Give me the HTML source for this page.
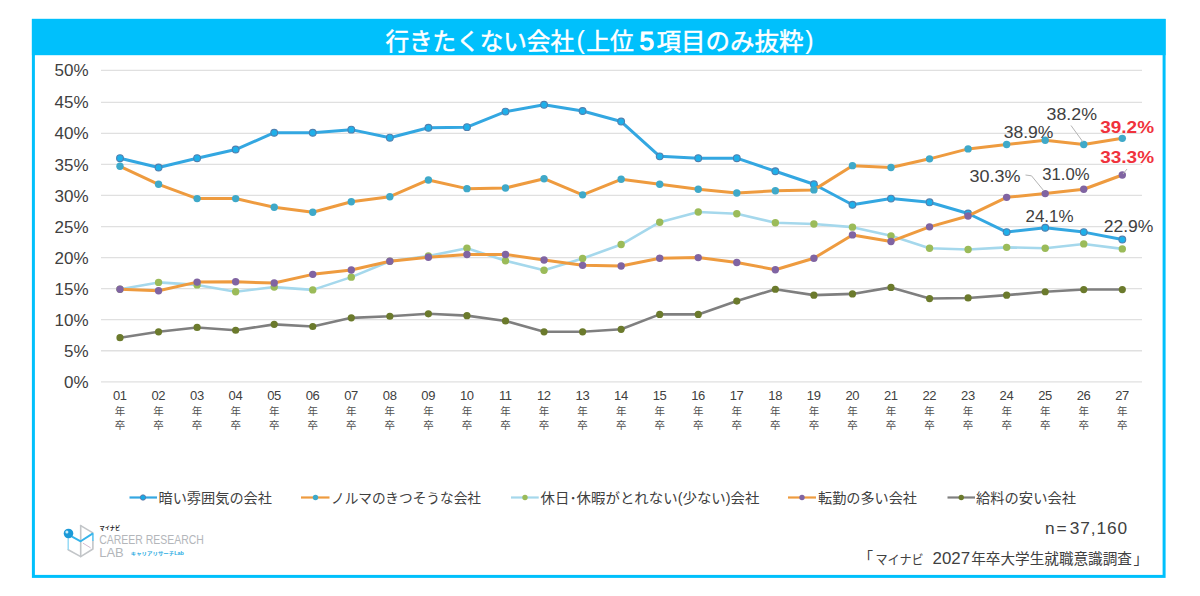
<!DOCTYPE html>
<html lang="ja"><head><meta charset="utf-8"><title>行きたくない会社(上位5項目のみ抜粋)</title>
<style>html,body{margin:0;padding:0;background:#fff}body{width:1200px;height:596px;position:relative;overflow:hidden;font-family:"Liberation Sans","Noto Sans CJK JP",sans-serif}</style></head>
<body>
<svg width="1200" height="596" viewBox="0 0 1200 596" style="position:absolute;left:0;top:0;font-family:'Liberation Sans','Noto Sans CJK JP',sans-serif">
<rect x="33.4" y="20.4" width="1130.7" height="556" fill="#fff" stroke="#00c0fc" stroke-width="3"/>
<rect x="31.9" y="18.9" width="1133.7" height="36.3" fill="#00c0fc"/>
<line x1="101" x2="1142" y1="381.8" y2="381.8" stroke="#e0e0e0" stroke-width="1.3"/>
<line x1="101" x2="1142" y1="350.75" y2="350.75" stroke="#e0e0e0" stroke-width="1.3"/>
<line x1="101" x2="1142" y1="319.69" y2="319.69" stroke="#e0e0e0" stroke-width="1.3"/>
<line x1="101" x2="1142" y1="288.63" y2="288.63" stroke="#e0e0e0" stroke-width="1.3"/>
<line x1="101" x2="1142" y1="257.58" y2="257.58" stroke="#e0e0e0" stroke-width="1.3"/>
<line x1="101" x2="1142" y1="226.53" y2="226.53" stroke="#e0e0e0" stroke-width="1.3"/>
<line x1="101" x2="1142" y1="195.47" y2="195.47" stroke="#e0e0e0" stroke-width="1.3"/>
<line x1="101" x2="1142" y1="164.41" y2="164.41" stroke="#e0e0e0" stroke-width="1.3"/>
<line x1="101" x2="1142" y1="133.36" y2="133.36" stroke="#e0e0e0" stroke-width="1.3"/>
<line x1="101" x2="1142" y1="102.31" y2="102.31" stroke="#e0e0e0" stroke-width="1.3"/>
<line x1="101" x2="1142" y1="70.3" y2="70.3" stroke="#e0e0e0" stroke-width="1.3"/>
<text x="88.5" y="387.9" text-anchor="end" font-size="17px" fill="#404040">0%</text>
<text x="88.5" y="356.85" text-anchor="end" font-size="17px" fill="#404040">5%</text>
<text x="88.5" y="325.79" text-anchor="end" font-size="17px" fill="#404040">10%</text>
<text x="88.5" y="294.74" text-anchor="end" font-size="17px" fill="#404040">15%</text>
<text x="88.5" y="263.68" text-anchor="end" font-size="17px" fill="#404040">20%</text>
<text x="88.5" y="232.62" text-anchor="end" font-size="17px" fill="#404040">25%</text>
<text x="88.5" y="201.57" text-anchor="end" font-size="17px" fill="#404040">30%</text>
<text x="88.5" y="170.51" text-anchor="end" font-size="17px" fill="#404040">35%</text>
<text x="88.5" y="139.46" text-anchor="end" font-size="17px" fill="#404040">40%</text>
<text x="88.5" y="108.41" text-anchor="end" font-size="17px" fill="#404040">45%</text>
<text x="88.5" y="76.4" text-anchor="end" font-size="17px" fill="#404040">50%</text>
<polyline points="120,158.2 158.55,167.52 197.1,158.2 235.65,149.51 274.2,132.74 312.75,132.74 351.3,129.63 389.85,137.71 428.4,127.77 466.95,127.15 505.5,111.62 544.05,104.79 582.6,111 621.15,121.56 659.7,156.34 698.25,158.2 736.8,158.2 775.35,171.25 813.9,184.29 852.45,204.79 891,198.58 929.55,202.3 968.1,213.48 1006.65,232.11 1045.2,227.77 1083.75,232.11 1122.3,239.57" fill="none" stroke="#33a7e1" stroke-width="3.0" stroke-linejoin="round" stroke-linecap="round"/>
<g fill="#1eb0ea" stroke="#4f80b0" stroke-width="1.1"><circle cx="120" cy="158.2" r="3.4"/><circle cx="158.55" cy="167.52" r="3.4"/><circle cx="197.1" cy="158.2" r="3.4"/><circle cx="235.65" cy="149.51" r="3.4"/><circle cx="274.2" cy="132.74" r="3.4"/><circle cx="312.75" cy="132.74" r="3.4"/><circle cx="351.3" cy="129.63" r="3.4"/><circle cx="389.85" cy="137.71" r="3.4"/><circle cx="428.4" cy="127.77" r="3.4"/><circle cx="466.95" cy="127.15" r="3.4"/><circle cx="505.5" cy="111.62" r="3.4"/><circle cx="544.05" cy="104.79" r="3.4"/><circle cx="582.6" cy="111" r="3.4"/><circle cx="621.15" cy="121.56" r="3.4"/><circle cx="659.7" cy="156.34" r="3.4"/><circle cx="698.25" cy="158.2" r="3.4"/><circle cx="736.8" cy="158.2" r="3.4"/><circle cx="775.35" cy="171.25" r="3.4"/><circle cx="813.9" cy="184.29" r="3.4"/><circle cx="852.45" cy="204.79" r="3.4"/><circle cx="891" cy="198.58" r="3.4"/><circle cx="929.55" cy="202.3" r="3.4"/><circle cx="968.1" cy="213.48" r="3.4"/><circle cx="1006.65" cy="232.11" r="3.4"/><circle cx="1045.2" cy="227.77" r="3.4"/><circle cx="1083.75" cy="232.11" r="3.4"/><circle cx="1122.3" cy="239.57" r="3.4"/></g>
<polyline points="120,166.28 158.55,184.29 197.1,198.58 235.65,198.58 274.2,207.27 312.75,212.24 351.3,201.68 389.85,196.71 428.4,179.94 466.95,188.64 505.5,188.02 544.05,178.7 582.6,194.85 621.15,179.32 659.7,184.29 698.25,189.26 736.8,192.99 775.35,190.81 813.9,189.88 852.45,165.66 891,167.52 929.55,158.83 968.1,148.89 1006.65,144.54 1045.2,140.19 1083.75,144.54 1122.3,138.33" fill="none" stroke="#ee9b3f" stroke-width="3.0" stroke-linejoin="round" stroke-linecap="round"/>
<g fill="#3fa9c9" stroke="#3fa9c9" stroke-width="0"><circle cx="120" cy="166.28" r="3.7"/><circle cx="158.55" cy="184.29" r="3.7"/><circle cx="197.1" cy="198.58" r="3.7"/><circle cx="235.65" cy="198.58" r="3.7"/><circle cx="274.2" cy="207.27" r="3.7"/><circle cx="312.75" cy="212.24" r="3.7"/><circle cx="351.3" cy="201.68" r="3.7"/><circle cx="389.85" cy="196.71" r="3.7"/><circle cx="428.4" cy="179.94" r="3.7"/><circle cx="466.95" cy="188.64" r="3.7"/><circle cx="505.5" cy="188.02" r="3.7"/><circle cx="544.05" cy="178.7" r="3.7"/><circle cx="582.6" cy="194.85" r="3.7"/><circle cx="621.15" cy="179.32" r="3.7"/><circle cx="659.7" cy="184.29" r="3.7"/><circle cx="698.25" cy="189.26" r="3.7"/><circle cx="736.8" cy="192.99" r="3.7"/><circle cx="775.35" cy="190.81" r="3.7"/><circle cx="813.9" cy="189.88" r="3.7"/><circle cx="852.45" cy="165.66" r="3.7"/><circle cx="891" cy="167.52" r="3.7"/><circle cx="929.55" cy="158.83" r="3.7"/><circle cx="968.1" cy="148.89" r="3.7"/><circle cx="1006.65" cy="144.54" r="3.7"/><circle cx="1045.2" cy="140.19" r="3.7"/><circle cx="1083.75" cy="144.54" r="3.7"/><circle cx="1122.3" cy="138.33" r="3.7"/></g>
<polyline points="120,289.26 158.55,282.42 197.1,284.91 235.65,291.74 274.2,287.08 312.75,289.88 351.3,277.14 389.85,261.31 428.4,256.03 466.95,248.26 505.5,260.69 544.05,270.31 582.6,258.51 621.15,244.54 659.7,222.18 698.25,211.93 736.8,213.79 775.35,222.8 813.9,224.04 852.45,227.15 891,235.84 929.55,248.26 968.1,249.51 1006.65,247.33 1045.2,248.26 1083.75,243.92 1122.3,248.88" fill="none" stroke="#a5d8ec" stroke-width="2.6" stroke-linejoin="round" stroke-linecap="round"/>
<g fill="#9bbb59" stroke="#9bbb59" stroke-width="0"><circle cx="120" cy="289.26" r="3.7"/><circle cx="158.55" cy="282.42" r="3.7"/><circle cx="197.1" cy="284.91" r="3.7"/><circle cx="235.65" cy="291.74" r="3.7"/><circle cx="274.2" cy="287.08" r="3.7"/><circle cx="312.75" cy="289.88" r="3.7"/><circle cx="351.3" cy="277.14" r="3.7"/><circle cx="389.85" cy="261.31" r="3.7"/><circle cx="428.4" cy="256.03" r="3.7"/><circle cx="466.95" cy="248.26" r="3.7"/><circle cx="505.5" cy="260.69" r="3.7"/><circle cx="544.05" cy="270.31" r="3.7"/><circle cx="582.6" cy="258.51" r="3.7"/><circle cx="621.15" cy="244.54" r="3.7"/><circle cx="659.7" cy="222.18" r="3.7"/><circle cx="698.25" cy="211.93" r="3.7"/><circle cx="736.8" cy="213.79" r="3.7"/><circle cx="775.35" cy="222.8" r="3.7"/><circle cx="813.9" cy="224.04" r="3.7"/><circle cx="852.45" cy="227.15" r="3.7"/><circle cx="891" cy="235.84" r="3.7"/><circle cx="929.55" cy="248.26" r="3.7"/><circle cx="968.1" cy="249.51" r="3.7"/><circle cx="1006.65" cy="247.33" r="3.7"/><circle cx="1045.2" cy="248.26" r="3.7"/><circle cx="1083.75" cy="243.92" r="3.7"/><circle cx="1122.3" cy="248.88" r="3.7"/></g>
<polyline points="120,289.26 158.55,290.81 197.1,282.11 235.65,281.8 274.2,283.05 312.75,274.35 351.3,270 389.85,261.31 428.4,257.27 466.95,254.47 505.5,254.47 544.05,260.06 582.6,265.34 621.15,265.96 659.7,258.2 698.25,257.58 736.8,262.55 775.35,269.69 813.9,258.2 852.45,234.91 891,241.43 929.55,226.84 968.1,215.97 1006.65,197.33 1045.2,193.61 1083.75,189.26 1122.3,174.97" fill="none" stroke="#ee9b3f" stroke-width="3.0" stroke-linejoin="round" stroke-linecap="round"/>
<g fill="#8064a2" stroke="#8064a2" stroke-width="0"><circle cx="120" cy="289.26" r="3.7"/><circle cx="158.55" cy="290.81" r="3.7"/><circle cx="197.1" cy="282.11" r="3.7"/><circle cx="235.65" cy="281.8" r="3.7"/><circle cx="274.2" cy="283.05" r="3.7"/><circle cx="312.75" cy="274.35" r="3.7"/><circle cx="351.3" cy="270" r="3.7"/><circle cx="389.85" cy="261.31" r="3.7"/><circle cx="428.4" cy="257.27" r="3.7"/><circle cx="466.95" cy="254.47" r="3.7"/><circle cx="505.5" cy="254.47" r="3.7"/><circle cx="544.05" cy="260.06" r="3.7"/><circle cx="582.6" cy="265.34" r="3.7"/><circle cx="621.15" cy="265.96" r="3.7"/><circle cx="659.7" cy="258.2" r="3.7"/><circle cx="698.25" cy="257.58" r="3.7"/><circle cx="736.8" cy="262.55" r="3.7"/><circle cx="775.35" cy="269.69" r="3.7"/><circle cx="813.9" cy="258.2" r="3.7"/><circle cx="852.45" cy="234.91" r="3.7"/><circle cx="891" cy="241.43" r="3.7"/><circle cx="929.55" cy="226.84" r="3.7"/><circle cx="968.1" cy="215.97" r="3.7"/><circle cx="1006.65" cy="197.33" r="3.7"/><circle cx="1045.2" cy="193.61" r="3.7"/><circle cx="1083.75" cy="189.26" r="3.7"/><circle cx="1122.3" cy="174.97" r="3.7"/></g>
<polyline points="120,337.7 158.55,331.8 197.1,327.45 235.65,330.25 274.2,324.35 312.75,326.52 351.3,317.83 389.85,316.27 428.4,313.79 466.95,315.65 505.5,320.93 544.05,331.8 582.6,331.8 621.15,329.32 659.7,314.41 698.25,314.41 736.8,301.06 775.35,289.26 813.9,295.16 852.45,293.91 891,287.39 929.55,298.57 968.1,297.95 1006.65,295.16 1045.2,291.74 1083.75,289.57 1122.3,289.57" fill="none" stroke="#7f7f7f" stroke-width="2.6" stroke-linejoin="round" stroke-linecap="round"/>
<g fill="#6b7a2c" stroke="#6b7a2c" stroke-width="0"><circle cx="120" cy="337.7" r="3.6"/><circle cx="158.55" cy="331.8" r="3.6"/><circle cx="197.1" cy="327.45" r="3.6"/><circle cx="235.65" cy="330.25" r="3.6"/><circle cx="274.2" cy="324.35" r="3.6"/><circle cx="312.75" cy="326.52" r="3.6"/><circle cx="351.3" cy="317.83" r="3.6"/><circle cx="389.85" cy="316.27" r="3.6"/><circle cx="428.4" cy="313.79" r="3.6"/><circle cx="466.95" cy="315.65" r="3.6"/><circle cx="505.5" cy="320.93" r="3.6"/><circle cx="544.05" cy="331.8" r="3.6"/><circle cx="582.6" cy="331.8" r="3.6"/><circle cx="621.15" cy="329.32" r="3.6"/><circle cx="659.7" cy="314.41" r="3.6"/><circle cx="698.25" cy="314.41" r="3.6"/><circle cx="736.8" cy="301.06" r="3.6"/><circle cx="775.35" cy="289.26" r="3.6"/><circle cx="813.9" cy="295.16" r="3.6"/><circle cx="852.45" cy="293.91" r="3.6"/><circle cx="891" cy="287.39" r="3.6"/><circle cx="929.55" cy="298.57" r="3.6"/><circle cx="968.1" cy="297.95" r="3.6"/><circle cx="1006.65" cy="295.16" r="3.6"/><circle cx="1045.2" cy="291.74" r="3.6"/><circle cx="1083.75" cy="289.57" r="3.6"/><circle cx="1122.3" cy="289.57" r="3.6"/></g>
<text x="119.8" y="400.2" text-anchor="middle" font-size="13px" fill="#404040" letter-spacing="-0.4">01</text>
<text x="158.35" y="400.2" text-anchor="middle" font-size="13px" fill="#404040" letter-spacing="-0.4">02</text>
<text x="196.9" y="400.2" text-anchor="middle" font-size="13px" fill="#404040" letter-spacing="-0.4">03</text>
<text x="235.45" y="400.2" text-anchor="middle" font-size="13px" fill="#404040" letter-spacing="-0.4">04</text>
<text x="274" y="400.2" text-anchor="middle" font-size="13px" fill="#404040" letter-spacing="-0.4">05</text>
<text x="312.55" y="400.2" text-anchor="middle" font-size="13px" fill="#404040" letter-spacing="-0.4">06</text>
<text x="351.1" y="400.2" text-anchor="middle" font-size="13px" fill="#404040" letter-spacing="-0.4">07</text>
<text x="389.65" y="400.2" text-anchor="middle" font-size="13px" fill="#404040" letter-spacing="-0.4">08</text>
<text x="428.2" y="400.2" text-anchor="middle" font-size="13px" fill="#404040" letter-spacing="-0.4">09</text>
<text x="466.75" y="400.2" text-anchor="middle" font-size="13px" fill="#404040" letter-spacing="-0.4">10</text>
<text x="505.3" y="400.2" text-anchor="middle" font-size="13px" fill="#404040" letter-spacing="-0.4">11</text>
<text x="543.85" y="400.2" text-anchor="middle" font-size="13px" fill="#404040" letter-spacing="-0.4">12</text>
<text x="582.4" y="400.2" text-anchor="middle" font-size="13px" fill="#404040" letter-spacing="-0.4">13</text>
<text x="620.95" y="400.2" text-anchor="middle" font-size="13px" fill="#404040" letter-spacing="-0.4">14</text>
<text x="659.5" y="400.2" text-anchor="middle" font-size="13px" fill="#404040" letter-spacing="-0.4">15</text>
<text x="698.05" y="400.2" text-anchor="middle" font-size="13px" fill="#404040" letter-spacing="-0.4">16</text>
<text x="736.6" y="400.2" text-anchor="middle" font-size="13px" fill="#404040" letter-spacing="-0.4">17</text>
<text x="775.15" y="400.2" text-anchor="middle" font-size="13px" fill="#404040" letter-spacing="-0.4">18</text>
<text x="813.7" y="400.2" text-anchor="middle" font-size="13px" fill="#404040" letter-spacing="-0.4">19</text>
<text x="852.25" y="400.2" text-anchor="middle" font-size="13px" fill="#404040" letter-spacing="-0.4">20</text>
<text x="890.8" y="400.2" text-anchor="middle" font-size="13px" fill="#404040" letter-spacing="-0.4">21</text>
<text x="929.35" y="400.2" text-anchor="middle" font-size="13px" fill="#404040" letter-spacing="-0.4">22</text>
<text x="967.9" y="400.2" text-anchor="middle" font-size="13px" fill="#404040" letter-spacing="-0.4">23</text>
<text x="1006.45" y="400.2" text-anchor="middle" font-size="13px" fill="#404040" letter-spacing="-0.4">24</text>
<text x="1045" y="400.2" text-anchor="middle" font-size="13px" fill="#404040" letter-spacing="-0.4">25</text>
<text x="1083.55" y="400.2" text-anchor="middle" font-size="13px" fill="#404040" letter-spacing="-0.4">26</text>
<text x="1122.1" y="400.2" text-anchor="middle" font-size="13px" fill="#404040" letter-spacing="-0.4">27</text>
<g font-size="10.5px" fill="#505050" text-anchor="middle">
<text x="120" y="415">年</text><text x="120" y="429.3">卒</text>
<text x="158.55" y="415">年</text><text x="158.55" y="429.3">卒</text>
<text x="197.1" y="415">年</text><text x="197.1" y="429.3">卒</text>
<text x="235.65" y="415">年</text><text x="235.65" y="429.3">卒</text>
<text x="274.2" y="415">年</text><text x="274.2" y="429.3">卒</text>
<text x="312.75" y="415">年</text><text x="312.75" y="429.3">卒</text>
<text x="351.3" y="415">年</text><text x="351.3" y="429.3">卒</text>
<text x="389.85" y="415">年</text><text x="389.85" y="429.3">卒</text>
<text x="428.4" y="415">年</text><text x="428.4" y="429.3">卒</text>
<text x="466.95" y="415">年</text><text x="466.95" y="429.3">卒</text>
<text x="505.5" y="415">年</text><text x="505.5" y="429.3">卒</text>
<text x="544.05" y="415">年</text><text x="544.05" y="429.3">卒</text>
<text x="582.6" y="415">年</text><text x="582.6" y="429.3">卒</text>
<text x="621.15" y="415">年</text><text x="621.15" y="429.3">卒</text>
<text x="659.7" y="415">年</text><text x="659.7" y="429.3">卒</text>
<text x="698.25" y="415">年</text><text x="698.25" y="429.3">卒</text>
<text x="736.8" y="415">年</text><text x="736.8" y="429.3">卒</text>
<text x="775.35" y="415">年</text><text x="775.35" y="429.3">卒</text>
<text x="813.9" y="415">年</text><text x="813.9" y="429.3">卒</text>
<text x="852.45" y="415">年</text><text x="852.45" y="429.3">卒</text>
<text x="891" y="415">年</text><text x="891" y="429.3">卒</text>
<text x="929.55" y="415">年</text><text x="929.55" y="429.3">卒</text>
<text x="968.1" y="415">年</text><text x="968.1" y="429.3">卒</text>
<text x="1006.65" y="415">年</text><text x="1006.65" y="429.3">卒</text>
<text x="1045.2" y="415">年</text><text x="1045.2" y="429.3">卒</text>
<text x="1083.75" y="415">年</text><text x="1083.75" y="429.3">卒</text>
<text x="1122.3" y="415">年</text><text x="1122.3" y="429.3">卒</text>
</g>
<text x="385.5" y="49.6" font-size="23.5px" fill="#fff" stroke="#fff" stroke-width="0.5" textLength="188.5" lengthAdjust="spacingAndGlyphs">行きたくない会社</text>
<text x="580.6" y="48.6" text-anchor="middle" font-size="25px" fill="#fff" stroke="#fff" stroke-width="0.15">(</text>
<text x="586.3" y="49.6" font-size="23.6px" fill="#fff" stroke="#fff" stroke-width="0.5" textLength="47.6" lengthAdjust="spacingAndGlyphs">上位</text>
<text x="656.6" y="49.6" font-size="24.4px" fill="#fff" stroke="#fff" stroke-width="0.5" textLength="147" lengthAdjust="spacingAndGlyphs">項目のみ抜粋</text>
<text x="809.5" y="48.6" text-anchor="middle" font-size="25px" fill="#fff" stroke="#fff" stroke-width="0.15">)</text>
<text x="646.85" y="50.2" text-anchor="middle" font-size="25px" fill="#fff" stroke="#fff" stroke-width="1.1" textLength="14.6" lengthAdjust="spacingAndGlyphs">5</text>
<text x="1071.8" y="119.7" text-anchor="middle" font-size="17px" fill="#404040" textLength="50.4" lengthAdjust="spacingAndGlyphs">38.2%</text>
<text x="1028.55" y="137.9" text-anchor="middle" font-size="17px" fill="#404040" textLength="49.7" lengthAdjust="spacingAndGlyphs">38.9%</text>
<text x="1127.15" y="133.2" text-anchor="middle" font-size="17px" fill="#f0323c" font-weight="bold" textLength="53.7" lengthAdjust="spacingAndGlyphs">39.2%</text>
<text x="1127.15" y="163.4" text-anchor="middle" font-size="17px" fill="#f0323c" font-weight="bold" textLength="53.7" lengthAdjust="spacingAndGlyphs">33.3%</text>
<text x="995" y="181.5" text-anchor="middle" font-size="17px" fill="#404040" textLength="51" lengthAdjust="spacingAndGlyphs">30.3%</text>
<text x="1065.95" y="180" text-anchor="middle" font-size="17px" fill="#404040" textLength="47.3" lengthAdjust="spacingAndGlyphs">31.0%</text>
<text x="1049.5" y="222.4" text-anchor="middle" font-size="17px" fill="#404040" textLength="48" lengthAdjust="spacingAndGlyphs">24.1%</text>
<text x="1128.55" y="231.8" text-anchor="middle" font-size="17px" fill="#404040" textLength="49.7" lengthAdjust="spacingAndGlyphs">22.9%</text>
<g stroke="#b4b4b4" stroke-width="1" fill="none"><polyline points="1071,125.5 1083,142"/><polyline points="1025.5,175 1031.5,175.8 1044,191"/><polyline points="1127,169 1123,174"/></g>
<line x1="129.5" x2="157" y1="497.5" y2="497.5" stroke="#35a7e2" stroke-width="2.2"/>
<circle cx="143" cy="497.5" r="2.7" fill="#16a9e6" stroke="#6a6f9a" stroke-width="0.8"/>
<text x="158.5" y="503" font-size="14.2px" fill="#404040" textLength="113.5" lengthAdjust="spacingAndGlyphs">暗い雰囲気の会社</text>
<line x1="301" x2="329.5" y1="497.5" y2="497.5" stroke="#ee9b3f" stroke-width="2.2"/>
<circle cx="315.5" cy="497.5" r="2.7" fill="#3fa9c9" stroke="#3fa9c9" stroke-width="0"/>
<text x="331" y="503" font-size="14.2px" fill="#404040" textLength="150" lengthAdjust="spacingAndGlyphs">ノルマのきつそうな会社</text>
<line x1="511" x2="538.75" y1="497.5" y2="497.5" stroke="#a5d8ec" stroke-width="2.2"/>
<circle cx="525" cy="497.5" r="2.7" fill="#9bbb59" stroke="#9bbb59" stroke-width="0"/>
<text x="540.5" y="503" font-size="14.2px" fill="#404040" textLength="219" lengthAdjust="spacingAndGlyphs">休日･休暇がとれない(少ない)会社</text>
<line x1="788" x2="816" y1="497.5" y2="497.5" stroke="#ee9b3f" stroke-width="2.2"/>
<circle cx="802" cy="497.5" r="2.7" fill="#8064a2" stroke="#8064a2" stroke-width="0"/>
<text x="818" y="503" font-size="14.2px" fill="#404040" textLength="99" lengthAdjust="spacingAndGlyphs">転勤の多い会社</text>
<line x1="947.5" x2="975" y1="497.5" y2="497.5" stroke="#7f7f7f" stroke-width="2.2"/>
<circle cx="961.25" cy="497.5" r="2.7" fill="#6b7a2c" stroke="#6b7a2c" stroke-width="0"/>
<text x="976" y="503" font-size="14.2px" fill="#404040" textLength="100" lengthAdjust="spacingAndGlyphs">給料の安い会社</text>
<text y="534" font-size="17.3px" fill="#404040"><tspan x="1044.9" textLength="21.8" lengthAdjust="spacing">n=</tspan><tspan x="1069.8" textLength="57.2" lengthAdjust="spacing">37,160</tspan></text>
<text x="873" y="563" text-anchor="end" font-size="14.6px" fill="#404040">「</text>
<text x="875.5" y="563.6" font-size="13px" fill="#404040" textLength="48.2" lengthAdjust="spacingAndGlyphs">マイナビ</text>
<text x="971.2" y="564" font-size="14.6px" fill="#404040" textLength="160.8" lengthAdjust="spacingAndGlyphs">年卒大学生就職意識調査</text>
<text x="1133.5" y="564" font-size="14.6px" fill="#404040">」</text>
<text x="951.25" y="564.2" text-anchor="middle" font-size="16px" fill="#404040" textLength="37.5" lengthAdjust="spacingAndGlyphs">2027</text>
<g fill="none" stroke="#c2c5c8" stroke-width="1.6" stroke-linejoin="round" stroke-linecap="round"><polyline points="80.7,525.6 80.7,556.6"/><polyline points="80.7,525.6 92.9,532.9"/><polyline points="92.9,541 92.9,549 80.7,556.6 68.2,549.7"/></g>
<polyline points="82.9,543.1 90.7,547.9" fill="none" stroke="#c9a9c4" stroke-width="0.8"/>
<polyline points="68.2,538 68.2,549.7" fill="none" stroke="#8fd8f5" stroke-width="1.4"/>
<polyline points="92.9,533.2 92.9,541" fill="none" stroke="#5cc4f0" stroke-width="1.6"/>
<polyline points="72,536.6 80.7,541.3 92.9,533.4" fill="none" stroke="#35b4ea" stroke-width="1.9" stroke-linejoin="round"/>
<circle cx="68.5" cy="533.5" r="4.8" fill="#1b9ad8"/><circle cx="66.9" cy="532" r="1.5" fill="#c9ecfa"/>
<text x="99.5" y="530" font-size="5.4px" font-weight="bold" fill="#1a1a1a" textLength="20.7" lengthAdjust="spacingAndGlyphs">マイナビ</text>
<text x="99.2" y="544.3" font-size="12.8px" fill="#b3b6ba" textLength="104.6" lengthAdjust="spacingAndGlyphs">CAREER RESEARCH</text>
<text x="99.2" y="556.7" font-size="12.2px" fill="#b3b6ba" textLength="24.5" lengthAdjust="spacingAndGlyphs">LAB</text>
<text x="130.7" y="555.4" font-size="4.8px" font-weight="bold" fill="#29abe2" textLength="53.2" lengthAdjust="spacingAndGlyphs">キャリアリサーチLab</text>
</svg>
</body></html>
